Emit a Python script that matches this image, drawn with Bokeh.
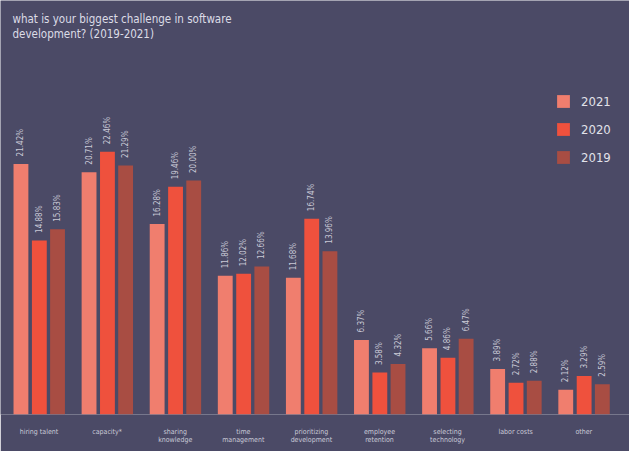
import numpy as np
from bokeh.plotting import figure
from bokeh.models import ColumnDataSource, Range1d, FixedTicker, Label, Legend, LegendItem
from bokeh.embed import file_html
from bokeh.resources import INLINE
from bokeh.core.properties import value

categories = ["hiring talent", "capacity*", "sharing\nknowledge", "time\nmanagement",
              "prioritizing\ndevelopment", "employee\nretention", "selecting\ntechnology",
              "labor costs", "other"]
years = ["2021", "2020", "2019"]
v2021 = [21.42, 20.71, 16.28, 11.86, 11.68, 6.37, 5.66, 3.89, 2.12]
v2020 = [14.88, 22.46, 19.46, 12.02, 16.74, 3.58, 4.86, 2.72, 3.29]
v2019 = [15.83, 21.29, 20.00, 12.66, 13.96, 4.32, 6.47, 2.88, 2.59]

BG = "#4b4a66"
COLORS = ["#f07e6e", "#ef513d", "#a84d43"]
TXT = "#c9c9d6"
NARROW = "DejaVu Sans Condensed"

W, H = 629, 451
FRAME_H = 414
px_per_unit = 68.1
x0 = 0.5 - 38.5 / px_per_unit
p = figure(width=W, height=H, output_backend="svg", toolbar_location=None,
           x_range=Range1d(x0, x0 + W / px_per_unit), y_range=Range1d(0, FRAME_H / 11.7),
           y_axis_location=None, min_border_left=0, min_border_right=0,
           min_border_top=0, min_border_bottom=H - FRAME_H)
p.background_fill_color = BG
p.border_fill_color = BG
p.outline_line_color = None
p.grid.visible = False

centers = np.arange(len(categories)) + 0.5
offsets = [-0.265, 0.005, 0.272]
series = [v2021, v2020, v2019]
items = []
label_gap = 7.5 / 11.7
for yr, vals, off, col in zip(years, series, offsets, COLORS):
    src = ColumnDataSource(dict(x=centers + off, top=vals,
                                ly=np.array(vals) + label_gap,
                                lab=[f"{v:.2f}%" for v in vals]))
    r = p.vbar(x="x", top="top", width=0.218, source=src, fill_color=col,
               line_color=None)
    items.append(LegendItem(label=yr, renderers=[r]))
    p.text(x="x", y="ly", text="lab", source=src, angle=np.pi / 2,
           text_align="left", text_baseline="middle", text_font=value(NARROW),
           text_font_size="8px", text_color=TXT)

ax = p.xaxis[0]
ax.ticker = FixedTicker(ticks=list(centers))
ax.major_label_overrides = {float(c): lab for c, lab in zip(centers, categories)}
ax.axis_line_color = None
ax.major_tick_line_color = None
ax.minor_tick_line_color = None
ax.major_label_standoff = 7
ax.major_label_text_font = NARROW
ax.major_label_text_font_size = "7px"
ax.major_label_text_color = TXT
ax.major_label_text_line_height = 1.0

legend = Legend(items=items, location=(555, 249), padding=0, margin=0,
                spacing=12, glyph_width=16, glyph_height=16, label_height=16,
                label_standoff=10, background_fill_alpha=0, border_line_color=None,
                label_text_font=NARROW, label_text_font_size="13px",
                label_text_color="#e2e2ea")
p.add_layout(legend)

title = Label(x=12, y=FRAME_H - 11, x_units="screen", y_units="screen",
              text="what is your biggest challenge in software\ndevelopment? (2019-2021)",
              text_baseline="top", text_align="left", text_font=NARROW,
              text_font_size="11.5px", text_color="#dcdce6", text_line_height=1.12)
p.add_layout(title)

open("out.html", "w").write(file_html(p, INLINE))
